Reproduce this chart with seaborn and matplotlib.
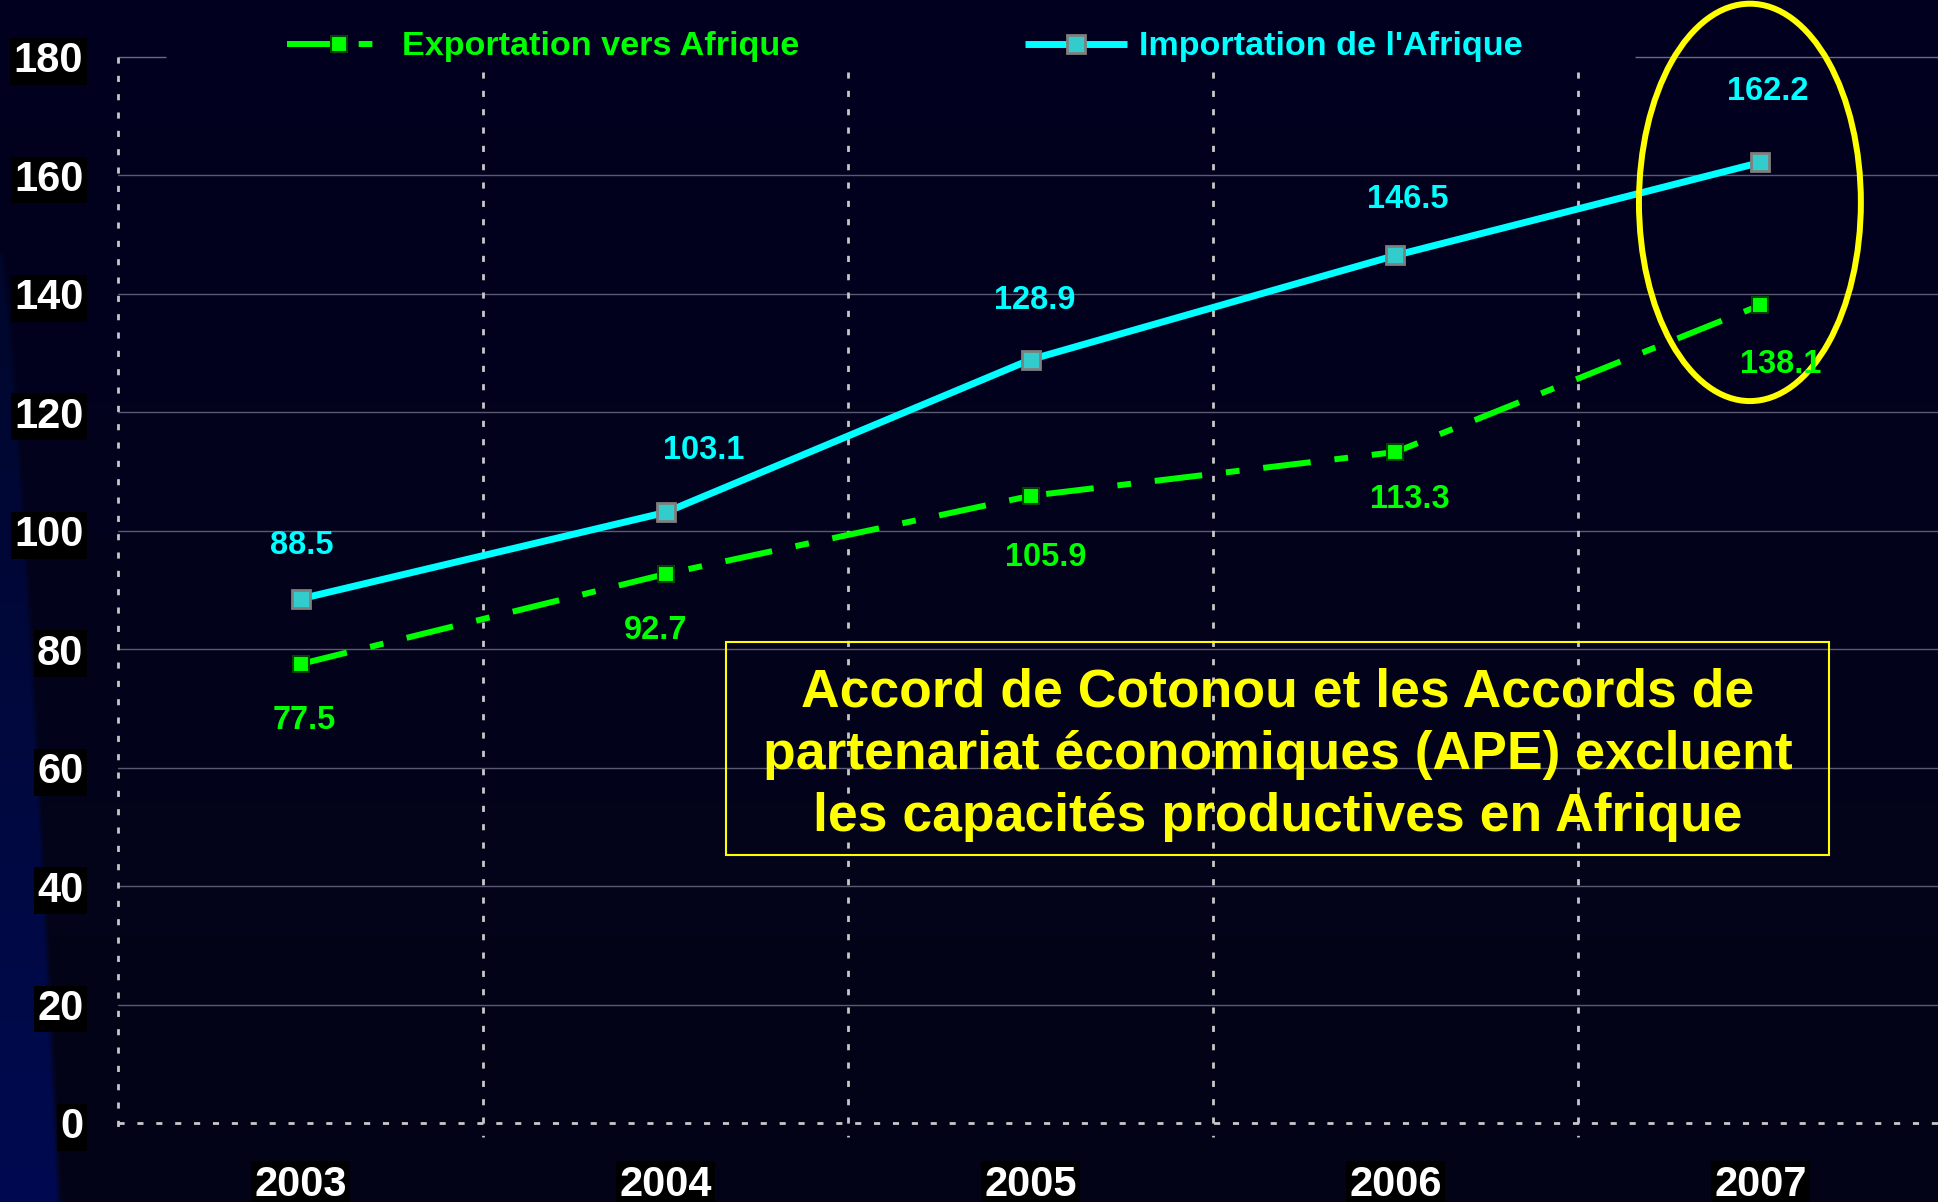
import numpy as np
import pandas as pd
import matplotlib
matplotlib.use("Agg")
import matplotlib.pyplot as plt
import seaborn as sns
from matplotlib.patches import Ellipse, Rectangle

# ---------------- data ----------------
years = ["2003", "2004", "2005", "2006", "2007"]
export_vals = [77.5, 92.7, 105.9, 113.3, 138.1]
import_vals = [88.5, 103.1, 128.9, 146.5, 162.2]
y_ticks = [0, 20, 40, 60, 80, 100, 120, 140, 160, 180]
export_label = "Exportation vers Afrique"
import_label = "Importation de l'Afrique"
note_text = ("Accord de Cotonou et les Accords de\n"
             "partenariat économiques (APE) excluent\n"
             "les capacités productives en Afrique")

df = pd.DataFrame({"pos": np.arange(len(years)), "year": years,
                   "export": export_vals, "import": import_vals})

# ---------------- style ----------------
sns.set_style("dark")
plt.rcParams["font.family"] = ["Liberation Sans", "DejaVu Sans"]
plt.rcParams["font.weight"] = "bold"

W, H, DPI = 1938, 1202, 100
CAT = 365.0          # pixels per category
AX_L, AX_B, AX_T = 118, 1123, 57
fig = plt.figure(figsize=(W / DPI, H / DPI), dpi=DPI)
fig.patch.set_facecolor("#01011e")

# background gradient (slide look)
bgax = fig.add_axes([0, 0, 1, 1], zorder=-10)
bgax.axis("off")
h, w = H // 2, W // 2
yy, xx = np.mgrid[0:h, 0:w].astype(float) * 2.0
t = yy / H
base = np.stack([1 + 3 * t, 1 + 3 * t, 32 - 9 * t], -1) / 255.0
boundary = np.where(yy > 250, 58 * np.clip((yy - 250) / 950, 0, 1) ** 0.75, -10)
m = np.clip((boundary - xx) / 6 + 0.5, 0, 1)
wedge = np.stack([0 * t, 6 + 4 * t, 34 + 46 * t], -1) / 255.0
img = base * (1 - m[..., None]) + wedge * m[..., None]
bgax.imshow(img, extent=[0, 1, 0, 1], aspect="auto", origin="upper")
bgax.set_xlim(0, 1)
bgax.set_ylim(0, 1)

ax = fig.add_axes([AX_L / W, (H - AX_B) / H, 1 - AX_L / W, (AX_B - AX_T) / H])
ax.set_facecolor("none")
for s in ax.spines.values():
    s.set_visible(False)
ax.grid(False)

XMAX = -0.5 + (W - AX_L) / CAT

# ---------------- series ----------------
sns.lineplot(data=df, x="pos", y="export", ax=ax, color="#00FF00", lw=4.3,
             linestyle=(0, (8.0, 4.0, 2.3, 4.0)), dash_capstyle="butt",
             marker="s", markersize=11.5, markerfacecolor="#00FF00",
             markeredgecolor="#004400", markeredgewidth=1.5,
             legend=False, zorder=5)
exp_line = ax.lines[-1]
sns.lineplot(data=df, x="pos", y="import", ax=ax, color="#00FFFF", lw=5,
             solid_capstyle="butt",
             marker="s", markersize=12.5, markerfacecolor="#33CCCC",
             markeredgecolor="#7f7f7f", markeredgewidth=2,
             legend=False, zorder=5)
imp_line = ax.lines[-1]

ax.set_xlim(-0.5, XMAX)
ax.set_ylim(0, 180)
ax.set_xlabel("")
ax.set_ylabel("")

# ---------------- grid ----------------
for v in y_ticks[1:-1]:
    ax.axhline(v, color="#5a5a72", lw=1.0, zorder=1)
ax.hlines(180, -0.5, -0.5 + (166 - AX_L) / CAT, color="#6a6a80", lw=1.0,
          clip_on=False, zorder=1)
ax.hlines(180, -0.5 + (1635 - AX_L) / CAT, XMAX, color="#6a6a80", lw=1.0,
          clip_on=False, zorder=1)
dot = (0, (2.2, 4.4))
ax.hlines(0, -0.5, XMAX, color="#c8c8c8", lw=2.0, linestyles=[(0, (2.2, 4.6))],
          clip_on=False, zorder=2)
ax.vlines([-0.5], 180, -2.4, color="#c8c8c8", lw=2.0, linestyles=[dot],
          clip_on=False, zorder=2)
ax.vlines(df["pos"].values[:-1] + 0.5, 177.5, -2.4, color="#c8c8c8", lw=2.0,
          linestyles=[dot], clip_on=False, zorder=2)

# ---------------- ticks ----------------
ax.set_xticks(df["pos"].values)
ax.set_xticklabels(years)
ax.set_yticks(y_ticks)
ax.set_yticklabels([str(v) for v in y_ticks])
ax.tick_params(axis="both", length=0, labelsize=30, labelcolor="white")
ax.tick_params(axis="y", pad=25)
ax.tick_params(axis="x", pad=30)
for lab in ax.get_xticklabels() + ax.get_yticklabels():
    lab.set_fontweight("bold")
    lab.set_bbox(dict(facecolor="black", edgecolor="none", pad=2.5))

# ---------------- data labels ----------------
imp_off = [(1, -56), (38, -65.5), (4, -62), (12, -59), (7.5, -74)]
exp_off = [(3.5, 53.6), (-9.5, 53.5), (15, 58.6), (14.5, 44.4), (20.5, 56.6)]
half_digit = 11.6
for i, v in enumerate(import_vals):
    dx, dy = imp_off[i]
    ax.annotate(f"{v:.1f}", (i, v), xytext=(dx, -(dy + half_digit)),
                textcoords="offset pixels", ha="center", va="baseline",
                color="#00FFFF", fontsize=23.5, fontweight="bold", zorder=7)
for i, v in enumerate(export_vals):
    dx, dy = exp_off[i]
    ax.annotate(f"{v:.1f}", (i, v), xytext=(dx, -(dy + half_digit)),
                textcoords="offset pixels", ha="center", va="baseline",
                color="#00FF00", fontsize=23.5, fontweight="bold", zorder=7)

# ---------------- highlight ellipse & note ----------------
ax.add_patch(Ellipse((3.971, 155.45), 0.608, 67.1, fill=False,
                     edgecolor="#FFFF00", lw=4.3, clip_on=False, zorder=6))
ax.add_patch(Rectangle((1.166, 45.3), 4.188 - 1.166, 81.3 - 45.3, fill=False,
                       edgecolor="#FFFF00", lw=1.5, zorder=6))
ax.text(2.677, 62.2, note_text, ha="center", va="center", multialignment="center",
        color="#FFFF00", fontsize=38.5, fontweight="bold", linespacing=1.32, zorder=7)

# ---------------- legend ----------------
leg = fig.legend(handles=[exp_line, imp_line], labels=[export_label, import_label],
                 loc="center", bbox_to_anchor=(905 / W, 1 - 47 / H), ncol=2,
                 frameon=False, prop={"weight": "bold", "size": 24.6},
                 handlelength=3.0, handletextpad=0.35, columnspacing=6.6,
                 borderpad=0)
for txt, c in zip(leg.get_texts(), ["#00FF00", "#00FFFF"]):
    txt.set_color(c)

fig.savefig("out.png", dpi=DPI, facecolor=fig.get_facecolor())
